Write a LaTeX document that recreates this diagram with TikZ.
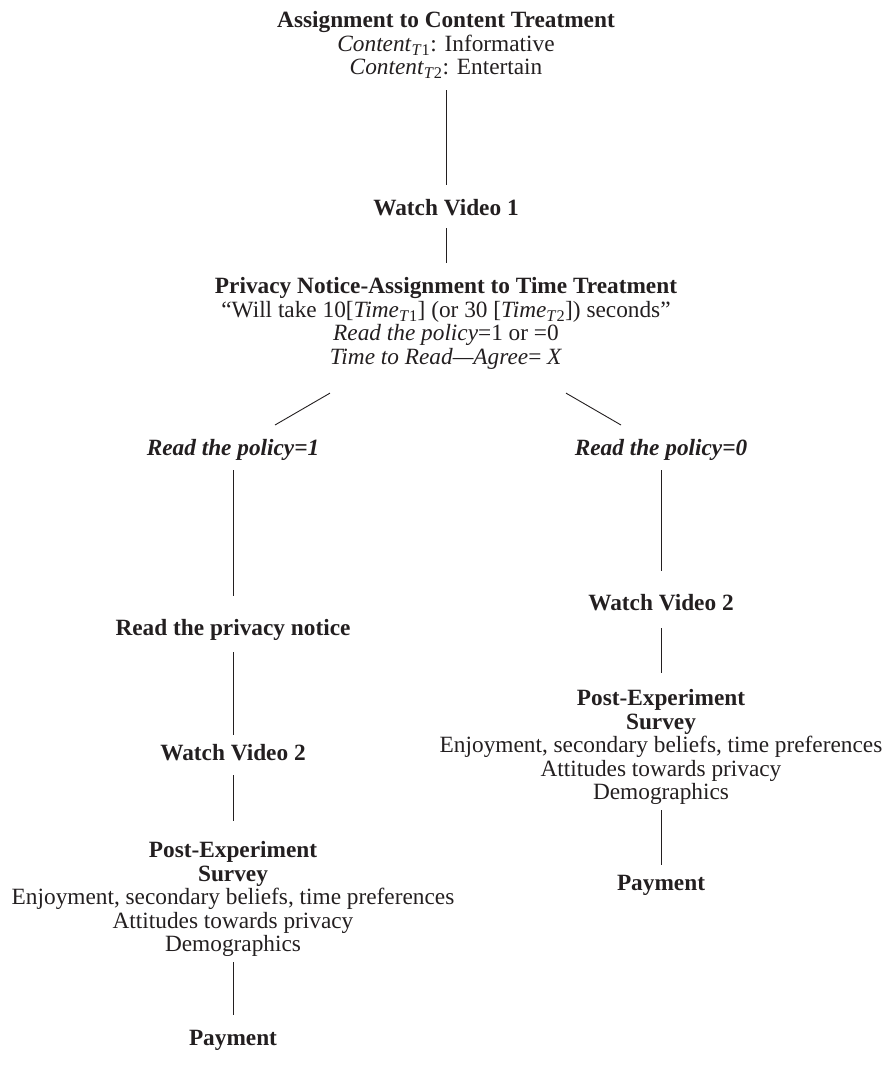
\documentclass[tikz,border=0pt]{standalone}
\usepackage{fontspec}
\setmainfont{Liberation Serif}
\usetikzlibrary{calc}
\definecolor{ink}{RGB}{35,31,32}
\tikzset{
  stage/.style={anchor=north, align=center, inner sep=0pt, text=ink,
    font={\fontsize{23.3}{23.5}\selectfont},
    execute at begin node={\strut}, execute at end node={\strut}},
  link/.style={draw=ink, line width=0.9pt},
  gap/.style 2 args={shorten <=#1pt, shorten >=#2pt}
}
\begin{document}
\begin{tikzpicture}[x=1pt, y=-1pt]
\useasboundingbox (0,0) rectangle (888,1070);

% trunk
\node[stage] (root) at (446,11.5) {\textbf{Assignment to Content Treatment}\\
  \textit{Content}\textsubscript{\textit{T}1}: Informative\\
  \textit{Content}\textsubscript{\textit{T}2}: Entertain};
\node[stage] (wv1) at (446,198.5) {\textbf{Watch Video 1}};
\node[stage] (priv) at (446,277.5) {\textbf{Privacy Notice-Assignment to Time Treatment}\\
  “Will take 10[\textit{Time}\textsubscript{\textit{T}1}] (or 30 [\textit{Time}\textsubscript{\textit{T}2}]) seconds”\\
  \textit{Read the policy}=1 or =0\\
  \textit{Time to Read---Agree}= \textit{X}};

% branch: read the policy
\node[stage] (pol1) at (233,438.5) {\textbf{\textit{Read the policy=1}}};
\node[stage] (rpn) at (233,618.5) {\textbf{Read the privacy notice}};
\node[stage] (wv2l) at (233,743.5) {\textbf{Watch Video 2}};
\node[stage] (survl) at (233,841.5) {\textbf{Post-Experiment}\\ \textbf{Survey}\\
  Enjoyment, secondary beliefs, time preferences\\
  Attitudes towards privacy\\ Demographics};
\node[stage] (payl) at (233,1028.5) {\textbf{Payment}};

% branch: skip the policy
\node[stage] (pol0) at (661,438.5) {\textbf{\textit{Read the policy=0}}};
\node[stage] (wv2r) at (661,593.5) {\textbf{Watch Video 2}};
\node[stage] (survr) at (661,689.5) {\textbf{Post-Experiment}\\ \textbf{Survey}\\
  Enjoyment, secondary beliefs, time preferences\\
  Attitudes towards privacy\\ Demographics};
\node[stage] (payr) at (661,873.5) {\textbf{Payment}};

% connectors
\draw[link, gap={8}{13.5}] (root.south) -- (wv1.north);
\draw[link, gap={6}{15}] (wv1.south) -- (priv.north);
\draw[link] ($(priv.south)+(-116,21.5)$) -- ($(pol1.north)+(42,-13.5)$);
\draw[link] ($(priv.south)+(120,21.5)$) -- ($(pol0.north)+(-40,-13.5)$);
\draw[link, gap={8}{23}] (pol1.south) -- (rpn.north);
\draw[link, gap={10}{8.5}] (rpn.south) -- (wv2l.north);
\draw[link, gap={8}{21}] (wv2l.south) -- (survl.north);
\draw[link, gap={3}{13.5}] (survl.south) -- (payl.north);
\draw[link, gap={8}{23}] (pol0.south) -- (wv2r.north);
\draw[link, gap={11}{17}] (wv2r.south) -- (survr.north);
\draw[link, gap={3}{8.5}] (survr.south) -- (payr.north);
\end{tikzpicture}
\end{document}
